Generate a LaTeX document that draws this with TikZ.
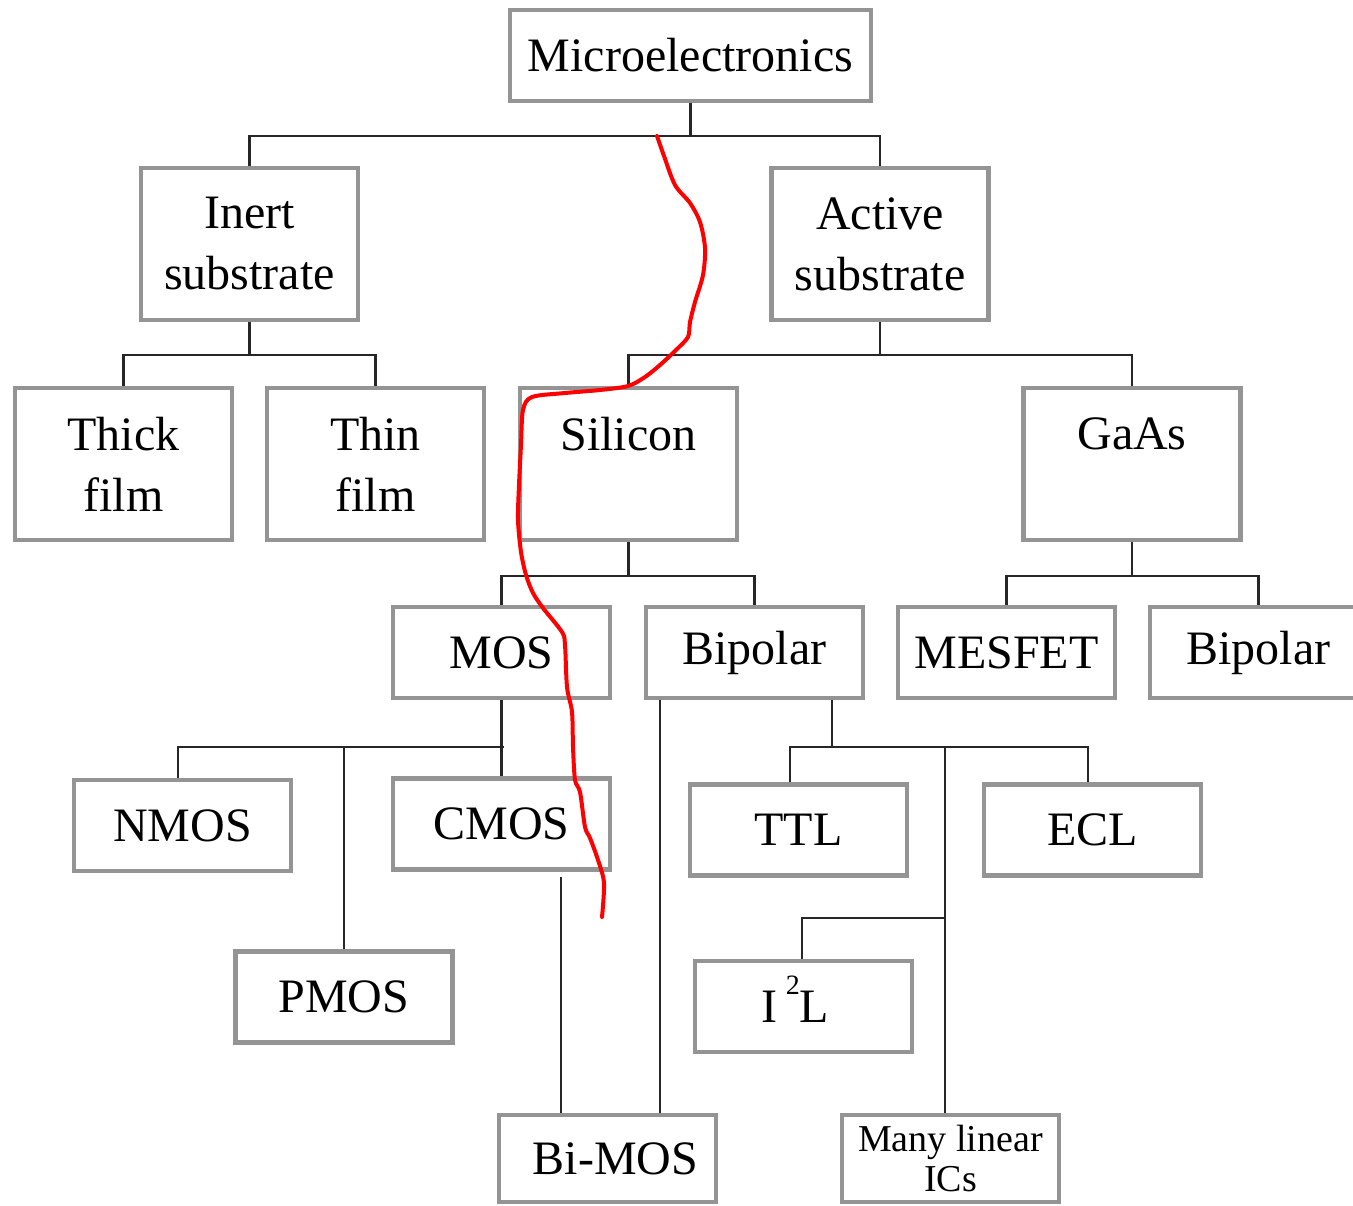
\documentclass[tikz,border=0pt]{standalone}
\usepackage{fontspec}
\setmainfont{Liberation Serif}
\usepackage{tikz}
\usetikzlibrary{positioning}

\begin{document}
\begin{tikzpicture}[x=0.5pt,y=-0.5pt]
 \tikzset{box/.style={draw=black!42,line width=2.2pt,minimum width=108.5pt,minimum height=45.5pt,
   align=center,inner sep=0pt,font=\fontsize{24}{30.5}\selectfont},
   tall/.style={box,minimum height=76pt},
   link/.style={draw=black!85,line width=1.1pt}}
 \useasboundingbox (0,0) rectangle (1353,1205);

 \node[box,minimum width=180.5pt] (micro) at (690.5,55.5) {Microelectronics};
 \node[tall] (inert) at (249.5,244) {Inert\\substrate};
 \node[tall] (active) at (880,244) {Active\\substrate};
 \node[tall] (thick) at (123.5,464) {Thick\\film};
 \node[tall] (thin) at (375.5,464) {Thin\\film};
 \node[tall] (silicon) at (628.5,464) {Silicon\\\mbox{}};
 \node[tall] (gaas) at (1132,464) {GaAs\\\mbox{}};
 \node[box] (mos) at (501.5,652.5) {MOS};
 \node[box] (bipolar) at (754.5,652.5) {Bipolar};
 \node[box] (mesfet) at (1006.5,652.5) {MESFET};
 \node[box] (gbipolar) at (1258.5,652.5) {Bipolar};
 \node[box] (nmos) at (182.5,825.5) {NMOS};
 \node[box] (cmos) at (501.5,824) {CMOS};
 \node[box] (pmos) at (344,997) {PMOS};
 \node[box] (ttl) at (798.5,830) {TTL};
 \node[box] (ecl) at (1092.5,830) {ECL};
 \node[box] (itwol) at (803.5,1006.5) {I\,\smash{\raisebox{14pt}{\fontsize{14}{14}\selectfont 2}}L\hspace{8pt}};
 \node[box,minimum height=43.5pt] (bimos) at (607.5,1158.5) {\hspace{8pt}Bi-MOS};
 \node[box,minimum height=43.5pt,font=\fontsize{19}{20}\selectfont] (linear) at (950.5,1158.5) {Many linear\\ICs};

 % tree links
 \draw[link] (micro.south) -- ++(0,33) coordinate (mjoin);
 \draw[link] (inert.north) |- (mjoin) -| (active.north);
 \draw[link] (inert.south) -- ++(0,33) coordinate (ijoin);
 \draw[link] (thick.north) |- (ijoin) -| (thin.north);
 \draw[link] (active.south) -- ++(0,33) coordinate (ajoin);
 \draw[link] (silicon.north) |- (ajoin) -| (gaas.north);
 \draw[link] (silicon.south) -- ++(0,34) coordinate (sjoin);
 \draw[link] (mos.north) |- (sjoin) -| (bipolar.north);
 \draw[link] (gaas.south) -- ++(0,34) coordinate (gjoin);
 \draw[link] (mesfet.north) |- (gjoin) -| (gbipolar.north);
 \draw[link] (mos.south) -- (cmos.north);
 \coordinate (mjoin2) at ([yshift=-23.5pt]mos.south);
 \draw[link] ([xshift=-2.25pt]nmos.north) |- ([xshift=1pt]mjoin2);
 \draw[link] (pmos.north) -- (pmos.north |- mjoin2);
 \coordinate (cgap) at (561,877);
 \draw[link] (cgap) -- (cgap |- bimos.north);
 \draw[link] ([xshift=-47.25pt]bipolar.south) -- ([xshift=-47.25pt]bipolar.south |- bimos.north);
 \draw[link] ([xshift=38.75pt]bipolar.south) -- ++(0,47) coordinate (bjoin);
 \draw[link] ([xshift=-4.25pt]ttl.north) |- (bjoin) -| ([xshift=-2.25pt]ecl.north);
 \draw[link] ([xshift=-2.75pt]linear.north) -- ([xshift=-2.75pt]linear.north |- bjoin);
 \coordinate (ljoin) at (945,918);
 \draw[link] ([xshift=-0.75pt]itwol.north) |- (ljoin);

 % freehand red stroke
 \draw[red,line width=2pt,line cap=round,line join=round] plot[smooth,tension=0.5] coordinates {
  (657,136) (664,156) (675,185) (690,203) (700,222) (705,248) (703,275) (695,302)
  (690,322) (688,337) (676,350) (660,365) (645,377) (628,386) (600,390) (565,393)
  (532,397) (523,410) (521,445) (519,485) (518,520) (521,552) (526,575) (533,593)
  (543,608) (562,632) (565,645) (567,687) (572,712) (573,747) (575,780) (580,792)
  (585,827) (590,838) (598,860) (604,883) (602,917)};
\end{tikzpicture}
\end{document}
